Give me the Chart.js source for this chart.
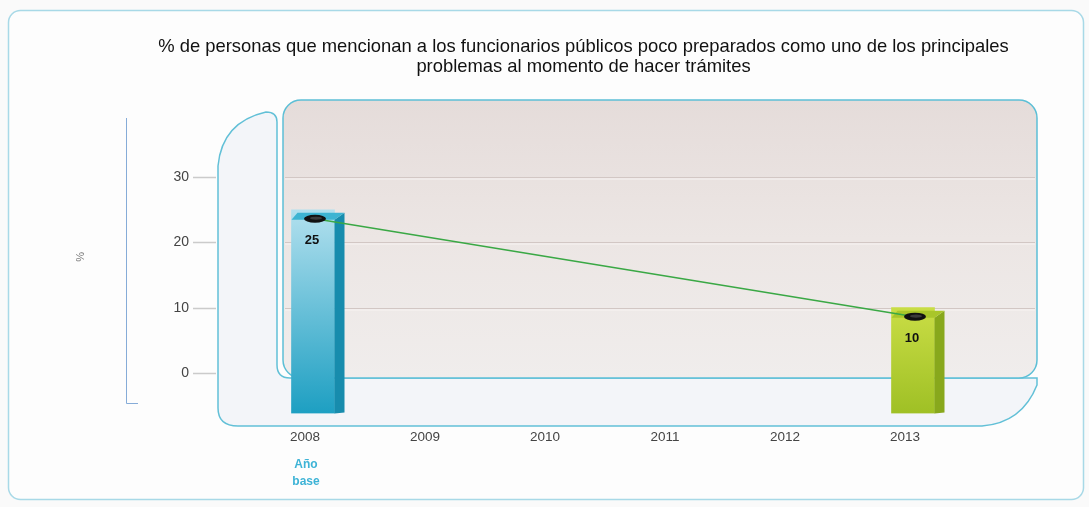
<!DOCTYPE html>
<html><head><meta charset="utf-8">
<script src="https://cdn.jsdelivr.net/npm/chart.js@4.4.1/dist/chart.umd.min.js"></script>
<style>html,body{margin:0;padding:0;background:#fafafa;overflow:hidden}</style>
</head><body>
<canvas id="c" width="1089" height="507"></canvas>
<script>
// ---- data ----
const titleLines = ['% de personas que mencionan a los funcionarios públicos poco preparados como uno de los principales', 'problemas al momento de hacer trámites'];
const years = ['2008', '2009', '2010', '2011', '2012', '2013'];
const values = [25, null, null, null, null, 10];
const yTickValues = [0, 10, 20, 30];
const yAxisLabel = '%';
const baseNote = ['Año', 'base'];

// ---- style ----
const FONT = "'Liberation Sans', Arial, sans-serif";
const Y_MIN = -6.2, Y_MAX = 41.8;
const BAR_SHIFT = 8;
const LINE_SHIFT = { x: 10, y: 9 };
const SIDE_W = 10;
const barPalette = {
  0: { light: '#b2e0ee', dark: '#1d9fc2', side: '#178cad', top: '#3db4d2' },
  5: { light: '#c9dd45', dark: '#9fc025', side: '#88a81c', top: '#a9c62a' }
};
const fallbackPal = { light: '#ccc', dark: '#999', side: '#888', top: '#aaa' };

function barGradient(context) {
  const chart = context.chart;
  const ys = chart.scales.y;
  if (!ys || !chart.chartArea) return '#7cc';
  const v = values[context.dataIndex];
  const p = barPalette[context.dataIndex] || fallbackPal;
  if (v == null) return p.dark;
  const top = ys.getPixelForValue(v), bot = ys.getPixelForValue(Y_MIN);
  const g = chart.ctx.createLinearGradient(0, top, 0, bot);
  g.addColorStop(0, p.light);
  g.addColorStop(1, p.dark);
  return g;
}

const decor = {
  id: 'decor',
  beforeDraw(chart) {
    const c = chart.ctx;
    const ys = chart.scales.y;
    c.save();
    c.fillStyle = '#fafafa';
    c.fillRect(0, 0, chart.width, chart.height);
    // outer frame
    c.beginPath();
    c.roundRect(8.5, 10.5, 1075, 489, 12);
    c.fillStyle = '#fdfdfd';
    c.fill();
    c.strokeStyle = '#a8d9e7';
    c.lineWidth = 1.5;
    c.stroke();
    // y bracket
    c.beginPath();
    c.moveTo(126.5, 118);
    c.lineTo(126.5, 403.5);
    c.lineTo(138, 403.5);
    c.strokeStyle = '#86acd8';
    c.lineWidth = 1;
    c.stroke();
    // left wall + floor
    c.beginPath();
    c.moveTo(290, 378);
    c.quadraticCurveTo(277, 378, 277, 365);
    c.lineTo(277, 122);
    c.quadraticCurveTo(277, 112, 266, 112);
    c.quadraticCurveTo(222, 122, 218, 166);
    c.lineTo(218, 408);
    c.quadraticCurveTo(218, 426, 238, 426);
    c.lineTo(982, 426);
    c.quadraticCurveTo(1022, 423, 1037, 385);
    c.lineTo(1037, 378);
    c.closePath();
    c.fillStyle = '#f3f5f9';
    c.fill();
    c.strokeStyle = '#62c0d7';
    c.lineWidth = 1.5;
    c.stroke();
    // back wall
    c.beginPath();
    c.roundRect(283, 100, 754, 278, 18);
    const g = c.createLinearGradient(0, 100, 0, 378);
    g.addColorStop(0, '#e5dcda');
    g.addColorStop(0.5, '#ece6e4');
    g.addColorStop(1, '#f0edec');
    c.fillStyle = g;
    c.fill();
    c.strokeStyle = '#5cbfd6';
    c.lineWidth = 1.5;
    c.stroke();
    // grid lines + tick dashes
    yTickValues.forEach(v => {
      const y = Math.round(ys.getPixelForValue(v)) + 0.5;
      if (v !== 0) {
        c.beginPath();
        c.moveTo(285, y); c.lineTo(1035, y);
        c.strokeStyle = '#d2c7c4'; c.lineWidth = 1.2; c.stroke();
        c.beginPath();
        c.moveTo(285, y + 1.5); c.lineTo(1035, y + 1.5);
        c.strokeStyle = '#f7f3f2'; c.lineWidth = 1; c.stroke();
      }
      c.beginPath();
      c.moveTo(193, y); c.lineTo(216, y);
      c.strokeStyle = '#cbcbcb'; c.lineWidth = 1.5; c.stroke();
    });
    c.restore();
  },
  beforeDatasetDraw(chart, args) {
    const c = chart.ctx;
    c.save();
    if (args.index === 0) c.translate(BAR_SHIFT, 0);
    else c.translate(LINE_SHIFT.x, LINE_SHIFT.y);
  },
  afterDatasetDraw(chart, args) {
    const c = chart.ctx;
    c.restore();
    if (args.index !== 0) return;
    const meta = chart.getDatasetMeta(0);
    c.save();
    meta.data.forEach((el, i) => {
      if (values[i] == null) return;
      const p = barPalette[i] || fallbackPal;
      const x0 = el.x - el.width / 2 + BAR_SHIFT, x1 = el.x + el.width / 2 + BAR_SHIFT;
      const top = el.y, bot = el.base;
      // side face
      c.beginPath();
      c.moveTo(x1, top + 10); c.lineTo(x1 + SIDE_W, top + 3);
      c.lineTo(x1 + SIDE_W, bot - 1); c.lineTo(x1, bot);
      c.closePath();
      c.fillStyle = p.side; c.fill();
      // top face
      c.beginPath();
      c.moveTo(x0, top + 10); c.lineTo(x0 + 6, top + 3);
      c.lineTo(x1 + SIDE_W, top + 3); c.lineTo(x1, top + 10);
      c.closePath();
      c.fillStyle = p.top; c.fill();
    });
    c.restore();
  },
  afterDatasetsDraw(chart) {
    const c = chart.ctx;
    const meta = chart.getDatasetMeta(0);
    c.save();
    meta.data.forEach((el, i) => {
      if (values[i] == null) return;
      const cx = el.x + LINE_SHIFT.x, cy = el.y + LINE_SHIFT.y;
      c.beginPath();
      c.ellipse(cx, cy, 11, 4, 0, 0, Math.PI * 2);
      c.fillStyle = '#111'; c.fill();
      c.beginPath();
      c.ellipse(cx + 1, cy - 0.5, 6, 1.6, 0, 0, Math.PI * 2);
      c.fillStyle = '#3a3a3a'; c.fill();
      c.font = `bold 13px ${FONT}`;
      c.fillStyle = '#111';
      c.textAlign = 'center';
      c.textBaseline = 'middle';
      c.fillText(String(values[i]), el.x + BAR_SHIFT - 1, el.y + 31);
    });
    // base-year note under first category
    const xs = chart.scales.x;
    const bx = xs.getPixelForValue(0) + 1;
    c.font = `bold 12px ${FONT}`;
    c.fillStyle = '#3db3d6';
    c.textAlign = 'center';
    c.textBaseline = 'middle';
    baseNote.forEach((t, k) => c.fillText(t, bx, 465 + k * 17));
    c.restore();
  }
};

new Chart(document.getElementById('c'), {
  data: {
    labels: years,
    datasets: [
      {
        type: 'bar',
        data: values,
        backgroundColor: barGradient,
        borderWidth: 0,
        barThickness: 43,
        base: Y_MIN,
        order: 1
      },
      {
        type: 'line',
        data: values,
        spanGaps: true,
        borderColor: '#3aa845',
        borderWidth: 1.6,
        pointRadius: 0,
        tension: 0,
        order: 0
      }
    ]
  },
  options: {
    responsive: false,
    animation: false,
    devicePixelRatio: 1,
    layout: { padding: { left: 88, right: 10, top: 0, bottom: 43.5 } },
    plugins: {
      legend: { display: false },
      tooltip: { enabled: false },
      title: {
        display: true,
        text: titleLines,
        color: '#111',
        font: { family: FONT, size: 18.4, lineHeight: 20 / 18.4, weight: 'normal' },
        padding: { top: 37, bottom: 23 }
      }
    },
    scales: {
      x: {
        type: 'category',
        offset: true,
        grid: { display: false, drawTicks: false },
        border: { display: false },
        ticks: { color: '#444', font: { family: FONT, size: 13.5 }, padding: 16, maxRotation: 0 },
        afterFit(s) { s.height = 50; }
      },
      y: {
        type: 'linear',
        position: 'left',
        min: Y_MIN,
        max: Y_MAX,
        grid: { display: false, drawTicks: false },
        border: { display: false },
        afterBuildTicks(s) { s.ticks = yTickValues.map(v => ({ value: v })); },
        ticks: { color: '#444', font: { family: FONT, size: 14 }, padding: 56 },
        title: { display: true, text: yAxisLabel, color: '#777', font: { family: FONT, size: 11 }, padding: { top: -14, bottom: 0 } },
        afterFit(s) { s.width = 157; }
      },
      y2: {
        type: 'linear',
        position: 'right',
        grid: { display: false, drawTicks: false },
        border: { display: false },
        ticks: { display: false },
        afterFit(s) { s.width = 114; }
      }
    }
  },
  plugins: [decor]
});
</script>
</body></html>
